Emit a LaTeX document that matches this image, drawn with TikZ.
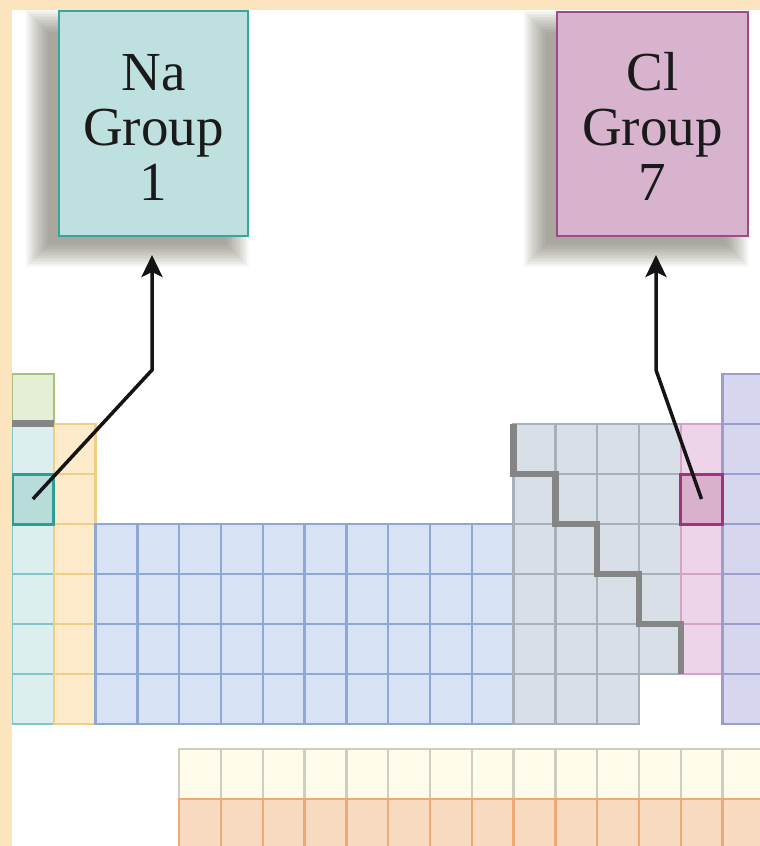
\documentclass[tikz,border=0pt]{standalone}
\usepackage{fontspec}
\setmainfont{Liberation Serif}
\usetikzlibrary{arrows.meta}
\definecolor{beigebg}{HTML}{FCE5BE}
\definecolor{hydfill}{HTML}{E5EFD5}\definecolor{hyddraw}{HTML}{A9BF7E}
\definecolor{alkfill}{HTML}{DCEEEE}\definecolor{alkdraw}{HTML}{7FC6C6}
\definecolor{aefill}{HTML}{FDEBCB}\definecolor{aedraw}{HTML}{F0CE86}
\definecolor{tmfill}{HTML}{D7E2F5}\definecolor{tmdraw}{HTML}{8EA8D6}
\definecolor{pbfill}{HTML}{D8DFE6}\definecolor{pbdraw}{HTML}{A7B1BC}
\definecolor{halfill}{HTML}{EDD4E8}\definecolor{haldraw}{HTML}{D7A2C8}
\definecolor{ngfill}{HTML}{D6D7EF}\definecolor{ngdraw}{HTML}{9C9CD0}
\definecolor{lanfill}{HTML}{FFFCEC}\definecolor{landraw}{HTML}{CFCDBD}
\definecolor{actfill}{HTML}{F8DAC0}\definecolor{actdraw}{HTML}{EFA972}
\definecolor{nahifill}{HTML}{B8DCDA}\definecolor{nahidraw}{HTML}{2E9D93}
\definecolor{clhifill}{HTML}{D9B1CC}\definecolor{clhidraw}{HTML}{A0337D}
\definecolor{naboxfill}{HTML}{BEE0DE}\definecolor{naboxdraw}{HTML}{3AA59C}
\definecolor{clboxfill}{HTML}{D8B3CD}\definecolor{clboxdraw}{HTML}{9B4A8A}
\definecolor{stair}{HTML}{858585}
\definecolor{shadowc}{HTML}{55513F}
\definecolor{inkc}{HTML}{1A1A1A}
\tikzset{
  hyd/.style={fill=hydfill,draw=hyddraw,line width=2.5pt},
  alk/.style={fill=alkfill,draw=alkdraw,line width=2.5pt},
  ae/.style={fill=aefill,draw=aedraw,line width=2.5pt},
  tm/.style={fill=tmfill,draw=tmdraw,line width=2.5pt},
  pb/.style={fill=pbfill,draw=pbdraw,line width=2.5pt},
  hal/.style={fill=halfill,draw=haldraw,line width=2.5pt},
  ng/.style={fill=ngfill,draw=ngdraw,line width=2.5pt},
  lan/.style={fill=lanfill,draw=landraw,line width=2.5pt},
  act/.style={fill=actfill,draw=actdraw,line width=2.5pt},
  hicell/.style={rectangle,anchor=north west,inner sep=0pt,outer sep=0pt,
    minimum width=41.8pt,minimum height=50pt,line width=3pt},
  groupbox/.style={rectangle,anchor=north west,inner sep=0pt,outer sep=0pt,
    line width=2.5pt,align=center,text=inkc,
    font=\fontsize{55}{55}\selectfont},
  pointer/.style={draw=black!92,line width=3.5pt,
    -{Stealth[length=22pt,width=21pt,inset=5pt]},shorten >=19pt}
}
\newcommand\pcell[3]{%
  \pgfmathsetmacro\cx{12+41.8*(#1-1)}%
  \pgfmathsetmacro\cy{374+50*(#2-1)}%
  \draw[#3] (\cx,\cy) rectangle ++(41.8,50);}
\newcommand\boxshadow[4]{% x0,y0,x1,y1 of shadow core
  \foreach \k in {0,...,15}{%
    \pgfmathsetmacro\e{(15-\k)*1.5}%
    \fill[shadowc,opacity=0.04] (#1-\e,#2-\e) rectangle (#3+\e,#4+\e);}}
\begin{document}
\begin{tikzpicture}[x=1pt,y=-1pt]
\useasboundingbox (0,0) rectangle (760,846);
\clip (0,0) rectangle (760,846);
\fill[white] (0,0) rectangle (760,846);
% box shadows
\boxshadow{48}{32}{226}{244}
\boxshadow{546}{33}{726}{244}
% periodic table cells
\draw[hyd] (12,374) rectangle (53.8,422);
\foreach \r in {2,4,5,6,7} {\pcell{1}{\r}{alk}}
\foreach \r in {2,...,7} {\pcell{2}{\r}{ae}}
\foreach \c in {3,...,12} {\foreach \r in {4,...,7} {\pcell{\c}{\r}{tm}}}
\foreach \c in {13,...,16} {\foreach \r in {2,...,6} {\pcell{\c}{\r}{pb}}}
\foreach \c in {13,14,15} {\pcell{\c}{7}{pb}}
\foreach \r in {2,4,5,6} {\pcell{17}{\r}{hal}}
\foreach \r in {1,...,7} {\pcell{18}{\r}{ng}}
\foreach \c in {5,...,18} {\pcell{\c}{8.5}{lan}}
\foreach \c in {5,...,18} {\pcell{\c}{9.5}{act}}
% hydrogen separator bar
\fill[stair] (12,420) rectangle (53.8,427);
% highlighted cells
\node[hicell,fill=nahifill,draw=nahidraw] (naCell) at (12,474) {};
\node[hicell,fill=clhifill,draw=clhidraw] (clCell) at (680.6,474) {};
% metal / nonmetal staircase
\draw[stair,line width=6.5pt,line join=miter]
  (513.6,424) -- (513.6,474) -- (555.4,474) -- (555.4,524) -- (597.2,524)
  -- (597.2,574) -- (639,574) -- (639,624) -- (680.8,624) -- (680.8,674);
% group boxes
\node[groupbox,fill=naboxfill,draw=naboxdraw,minimum width=189pt,minimum height=225pt]
  (naBox) at (59,11) {\rule{0pt}{43pt}Na\\Group\\1};
\node[groupbox,fill=clboxfill,draw=clboxdraw,minimum width=191pt,minimum height=224pt]
  (clBox) at (557,12) {\rule{0pt}{43pt}Cl\\Group\\7};
% pointers
\coordinate (naBend) at (152,370);
\coordinate (clBend) at (656,370);
\draw[pointer] (naCell.center) -- (naBend) -- (naBend |- naBox.south);
\draw[pointer] (clCell.center) -- (clBend) -- (clBend |- clBox.south);
% beige frame strips
\fill[beigebg] (0,0) rectangle (760,9.5);
\fill[beigebg] (0,0) rectangle (12,846);
\end{tikzpicture}
\end{document}
